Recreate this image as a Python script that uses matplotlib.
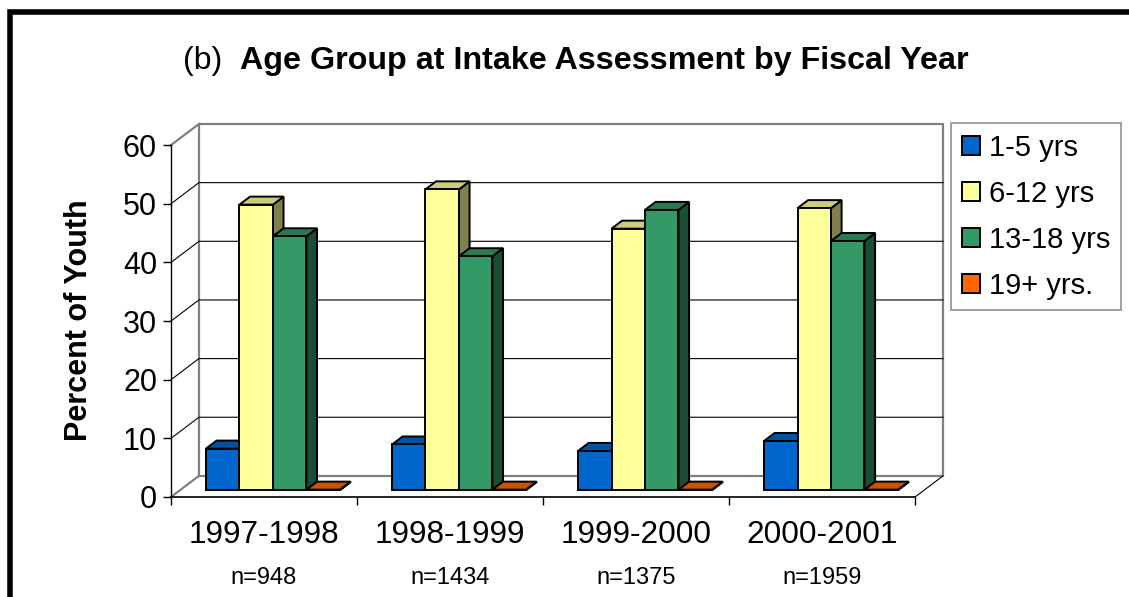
import matplotlib.pyplot as plt
from matplotlib.patches import Polygon, Patch
from matplotlib.lines import Line2D
import numpy as np

plt.rcParams['font.family'] = ['Liberation Sans', 'DejaVu Sans']

# ---------------------------------------------------------------------------
# Data - percent of youth by age group at intake, per fiscal year
# ---------------------------------------------------------------------------
years = ["1997-1998", "1998-1999", "1999-2000", "2000-2001"]
n_counts = ["n=948", "n=1434", "n=1375", "n=1959"]
groups = ["1-5 yrs", "6-12 yrs", "13-18 yrs", "19+ yrs."]

pct_1_5 = [7.1, 7.8, 6.7, 8.4]
pct_6_12 = [48.7, 51.3, 44.6, 48.1]
pct_13_18 = [43.3, 39.9, 47.8, 42.5]
pct_19_up = [0.1, 0.1, 0.1, 0.1]

series = [pct_1_5, pct_6_12, pct_13_18, pct_19_up]
yticks = [0, 10, 20, 30, 40, 50, 60]

# ---------------------------------------------------------------------------
# Styling (Excel-like pseudo 3-D)
# ---------------------------------------------------------------------------
FRONT = ["#0066CC", "#FFFF99", "#339966", "#FF6600"]


def shade(hexcol, k):
    r, g, b = (int(hexcol[i:i + 2], 16) for i in (1, 3, 5))
    return (r * k / 255, g * k / 255, b * k / 255)


TOP = [shade(c, 0.8) for c in FRONT]
SIDE = [shade(c, 0.5) for c in FRONT]

W, H = 1129, 597
DX, DY = 0.15, 3.6          # depth of the floor (category units, value units)
F0, F1 = 0.32, 0.70         # bar front / back plane as fraction of depth
BAR_W = 0.18
MARGIN = (1 - 4 * BAR_W) / 2
EDGE_LW = 1.4
GRAY = "#808080"

fig = plt.figure(figsize=(W / 100, H / 100), dpi=100)
ax = fig.add_axes([171 / W, (H - 497) / H, (943 - 171) / W, (497 - 124) / H])
ax.set_xlim(0, 4 + DX)
ax.set_ylim(0, 60 + DY)
ax.patch.set_visible(False)

# back wall + its gridlines
ax.add_patch(Polygon([(DX, DY), (4 + DX, DY), (4 + DX, 60 + DY), (DX, 60 + DY)],
                     closed=True, facecolor="white", edgecolor=GRAY, lw=1.6,
                     zorder=1, clip_on=False))
for v in yticks[1:-1]:
    ax.plot([0, DX, 4 + DX], [v, v + DY, v + DY], color="black", lw=0.8,
            zorder=1.5, clip_on=False)
# side wall / floor edges
ax.plot([0, DX], [60, 60 + DY], color=GRAY, lw=1.6, zorder=1.5, clip_on=False)
ax.plot([0, DX], [0, DY], color=GRAY, lw=1.6, zorder=1.5, clip_on=False)
ax.plot([4, 4 + DX], [0, DY], color="black", lw=0.8, zorder=1.5, clip_on=False)

# bars
bar_y0 = F0 * DY
bar_dx = (F1 - F0) * DX
bar_dy = (F1 - F0) * DY
for i in range(len(years)):
    for j, vals in enumerate(series):
        v = vals[i]
        x0 = i + MARGIN + j * BAR_W + F0 * DX
        z = 3 + i * 10 + j * 2
        top = bar_y0 + v
        side = Polygon([(x0 + BAR_W, bar_y0), (x0 + BAR_W + bar_dx, bar_y0 + bar_dy),
                        (x0 + BAR_W + bar_dx, top + bar_dy), (x0 + BAR_W, top)],
                       closed=True, facecolor=SIDE[j], edgecolor="black",
                       lw=EDGE_LW, zorder=z, joinstyle="miter")
        lid = Polygon([(x0, top), (x0 + bar_dx, top + bar_dy),
                       (x0 + BAR_W + bar_dx, top + bar_dy), (x0 + BAR_W, top)],
                      closed=True, facecolor=TOP[j], edgecolor="black",
                      lw=EDGE_LW, zorder=z, joinstyle="miter")
        ax.add_patch(side)
        ax.add_patch(lid)
        ax.bar(x0, v, BAR_W, bottom=bar_y0, align="edge", color=FRONT[j],
               edgecolor="black", lw=EDGE_LW, zorder=z + 1)

# axes: front value axis and category axis
for s in ["top", "right"]:
    ax.spines[s].set_visible(False)
ax.spines["left"].set_bounds(0, 60)
ax.spines["bottom"].set_bounds(0, 4)
ax.spines["left"].set_linewidth(1.0)
ax.spines["bottom"].set_linewidth(1.2)
ax.spines["left"].set_zorder(2)
ax.set_yticks(yticks)
ax.set_yticklabels([str(t) for t in yticks], fontsize=22)
ax.tick_params(axis="y", length=6, width=1, pad=4)
ax.set_xticks(np.arange(0, 5))
ax.set_xticklabels([])
ax.tick_params(axis="x", length=6, width=1)

for i, (yr, n) in enumerate(zip(years, n_counts)):
    ax.text(i + 0.5, -38 / 373, yr, transform=ax.get_xaxis_transform(),
            ha="center", va="center", fontsize=22.7)
    ax.text(i + 0.5, -81 / 373, n, transform=ax.get_xaxis_transform(),
            ha="center", va="center", fontsize=17)

fig.text(79 / W, 1 - 320 / H, "Percent of Youth", rotation=90, ha="center",
         va="center", fontsize=22, fontweight="bold")

# title
fig.text(183 / W, 1 - 68.5 / H, "(b)", ha="left", va="baseline", fontsize=23)
fig.text(240 / W, 1 - 68.5 / H, "Age Group at Intake Assessment by Fiscal Year",
         ha="left", va="baseline", fontsize=23.2, fontweight="bold")

# legend
handles = [Patch(facecolor=c, edgecolor="black", lw=1.4) for c in FRONT]
leg = fig.legend(handles, groups, loc="upper left",
                 bbox_to_anchor=(951 / W, 1 - 123 / H), fontsize=21,
                 frameon=True, fancybox=False, handlelength=0.65,
                 handleheight=0.65, handletextpad=0.3, labelspacing=0.62,
                 borderpad=0.36, borderaxespad=0)
leg.get_frame().set_edgecolor(GRAY)
leg.get_frame().set_linewidth(1.3)

# outer frame (top and left edges)
fig.add_artist(Line2D([10 / W, 10 / W, 1], [0, 1 - 11.5 / H, 1 - 11.5 / H],
                      transform=fig.transFigure, color="black", lw=4,
                      solid_joinstyle="miter"))

fig.savefig("out.png", dpi=100)
